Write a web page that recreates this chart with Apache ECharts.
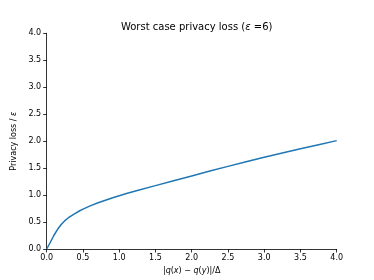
<!DOCTYPE html>
<html>
<head>
<meta charset="utf-8">
<script src="https://cdn.jsdelivr.net/npm/echarts@6/dist/echarts.min.js"></script>
<style>
html,body{margin:0;padding:0;background:#fff;}
#c{width:374px;height:280px;}
</style>
</head>
<body>
<div id="c"></div>
<script>
var xValues = [0, 0.05, 0.1, 0.15, 0.2, 0.25, 0.3, 0.35, 0.4, 0.45, 0.5, 0.6, 0.7, 0.8, 0.9, 1.0, 1.1, 1.25, 1.5, 1.75, 2.0, 2.25, 2.5, 2.75, 3.0, 3.25, 3.5, 3.75, 4.0];
var lossValues = [0, 0.125, 0.255, 0.365, 0.455, 0.525, 0.58, 0.625, 0.665, 0.705, 0.74, 0.80, 0.852, 0.90, 0.945, 0.988, 1.028, 1.085, 1.175, 1.265, 1.355, 1.445, 1.532, 1.618, 1.70, 1.78, 1.858, 1.935, 2.01];
var tickValues = ['0.0','0.5','1.0','1.5','2.0','2.5','3.0','3.5','4.0'];

var font = 'DejaVu Sans';
var chart = echarts.init(document.getElementById('c'), null, {renderer:'canvas'});
var pts = xValues.map(function(x,i){return [x, lossValues[i]];});
function axisBase(margin){
  return {
    type:'value', min:0, max:4, interval:0.5,
    axisLine:{show:true, onZero:false, lineStyle:{color:'#000', width:0.8}},
    axisTick:{show:true, inside:false, length:3.5, lineStyle:{color:'#000', width:0.8}},
    splitLine:{show:false},
    axisLabel:{color:'#000', fontFamily:font, fontSize:8, margin:margin,
      formatter:function(v){return tickValues[Math.round(v*2)];}}
  };
}
var richI = {i:{fontStyle:'italic', fontFamily:font, fontSize:8, color:'#000'}};
chart.setOption({
  animation:false,
  backgroundColor:'#fff',
  title:{
    text:'Worst case privacy loss ({i|ε} =6)',
    left:191.7, top:17, textAlign:'center',
    textStyle:{color:'#000', fontFamily:font, fontSize:10, fontWeight:'normal',
      rich:{i:{fontStyle:'italic', fontFamily:font, fontSize:10, color:'#000'}}}
  },
  grid:{left:46.7, right:37.3, top:33.3, bottom:31, containLabel:false},
  xAxis:Object.assign(axisBase(4.5), {
    name:'|{i|q}({i|x}) − {i|q}({i|y})|/Δ',
    nameLocation:'middle', nameGap:17.5,
    nameTextStyle:{color:'#000', fontFamily:font, fontSize:8, rich:richI}
  }),
  yAxis:Object.assign(axisBase(5.5), {
    name:'Privacy loss / {i|ε}',
    nameLocation:'middle', nameGap:23,
    nameTextStyle:{color:'#000', fontFamily:font, fontSize:8, rich:richI}
  }),
  series:[{
    type:'line', data:pts, showSymbol:false, smooth:false,
    lineStyle:{color:'#1f77b4', width:1.5}, clip:true
  }]
});
</script>
</body>
</html>
